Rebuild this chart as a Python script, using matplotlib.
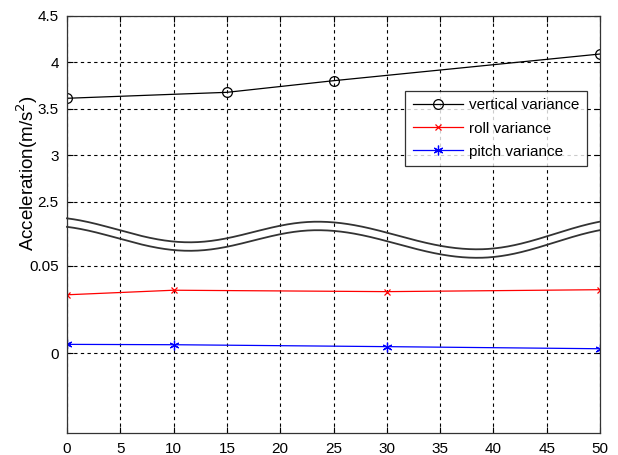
import numpy as np
import matplotlib
matplotlib.use("Agg")
from matplotlib import pyplot as plt
import matplotlib.transforms as mtransforms

plt.rcParams["font.family"] = ["Liberation Sans", "DejaVu Sans"]

# data
vert_x = [0, 10, 15, 25, 50]
vert_y = [3.612, 3.655, 3.676, 3.801, 4.088]
vert_mark = [0, 2, 3, 4]
roll_x = [0, 10, 30, 50]
roll_y = [0.0334, 0.0360, 0.0352, 0.0363]
pitch_x = [0, 10, 30, 50]
pitch_y = [0.0051, 0.0049, 0.0038, 0.0026]

x_ticks = list(range(0, 51, 5))
y_ticks = [0, 0.05, 2.5, 3, 3.5, 4, 4.5]
y_tick_labels = ["0", "0.05", "2.5", "3", "3.5", "4", "4.5"]

# broken y axis: piecewise linear scale
seg_data = np.array([-1.0, -0.0457, 0.0, 0.05, 2.5, 4.5, 10.0])
seg_disp = np.array([-1752 * 0.9543, 0.0, 80.0, 167.6, 231.6, 417.6, 417.6 + 93 * 5.5])


def fwd(v):
    return np.interp(v, seg_data, seg_disp)


def inv(v):
    return np.interp(v, seg_disp, seg_data)


fig = plt.figure(figsize=(6.18, 4.55), dpi=100)
ax = fig.add_axes([67 / 618, 1 - 433.3 / 455, 533 / 618, 417.6 / 455])
ax.set_yscale("function", functions=(fwd, inv))

ax.plot(vert_x, vert_y, color="black", lw=0.9, marker="o", ms=7, mfc="none",
        mew=0.9, markevery=vert_mark, label="vertical variance")
ax.plot(roll_x, roll_y, color="red", lw=0.9, marker="x", ms=5, mew=0.9,
        label="roll variance")
ax.plot(pitch_x, pitch_y, color="blue", lw=0.9, marker=(6, 2, 0), ms=7, mew=0.9,
        label="pitch variance")

# break mark (decoration), pixel rows of extremes of upper curve
ext_x = [-2, 11.5, 23.5, 38.5, 53]
ext_y = [217.0, 242.3, 221.7, 249.3, 218.5]
xs = np.linspace(0, 50, 400)
ys = np.empty_like(xs)
for i in range(len(ext_x) - 1):
    m = (xs >= ext_x[i]) & (xs <= ext_x[i + 1])
    t = (xs[m] - ext_x[i]) / (ext_x[i + 1] - ext_x[i])
    ys[m] = ext_y[i] + (ext_y[i + 1] - ext_y[i]) * (1 - np.cos(np.pi * t)) / 2
trans = mtransforms.blended_transform_factory(ax.transData, ax.transAxes)
for off in (0, 8.5):
    ax.plot(xs, (433.3 - (ys + off)) / 417.6, transform=trans, color="#333333",
            lw=1.3, clip_on=False)

ax.set_xlim(0, 50)
ax.set_ylim(-0.0457, 4.5)
ax.set_xticks(x_ticks)
ax.set_yticks(y_ticks)
ax.set_yticklabels(y_tick_labels)
ax.minorticks_off()
ax.tick_params(direction="in", length=4, labelsize=11, top=True, right=True,
               pad=6, width=0.8)
ax.grid(True, color="black", linestyle=(0, (3, 3)), linewidth=0.8)
for s in ax.spines.values():
    s.set_linewidth(0.9)
    s.set_color("#333333")

ax.set_ylabel("Acceleration(m/s$^2$)", fontsize=13.5)
ax.yaxis.set_label_coords(-0.05, 0.622)

leg = ax.legend(loc="upper left", bbox_to_anchor=(405 / 618, 1 - 90.7 / 455),
                bbox_transform=fig.transFigure, fontsize=11, frameon=True,
                fancybox=False, edgecolor="black", handlelength=3.3,
                borderpad=0.5, labelspacing=0.6, handletextpad=0.4,
                borderaxespad=0)
leg.get_frame().set_linewidth(0.9)

fig.savefig("out.png", dpi=100)
